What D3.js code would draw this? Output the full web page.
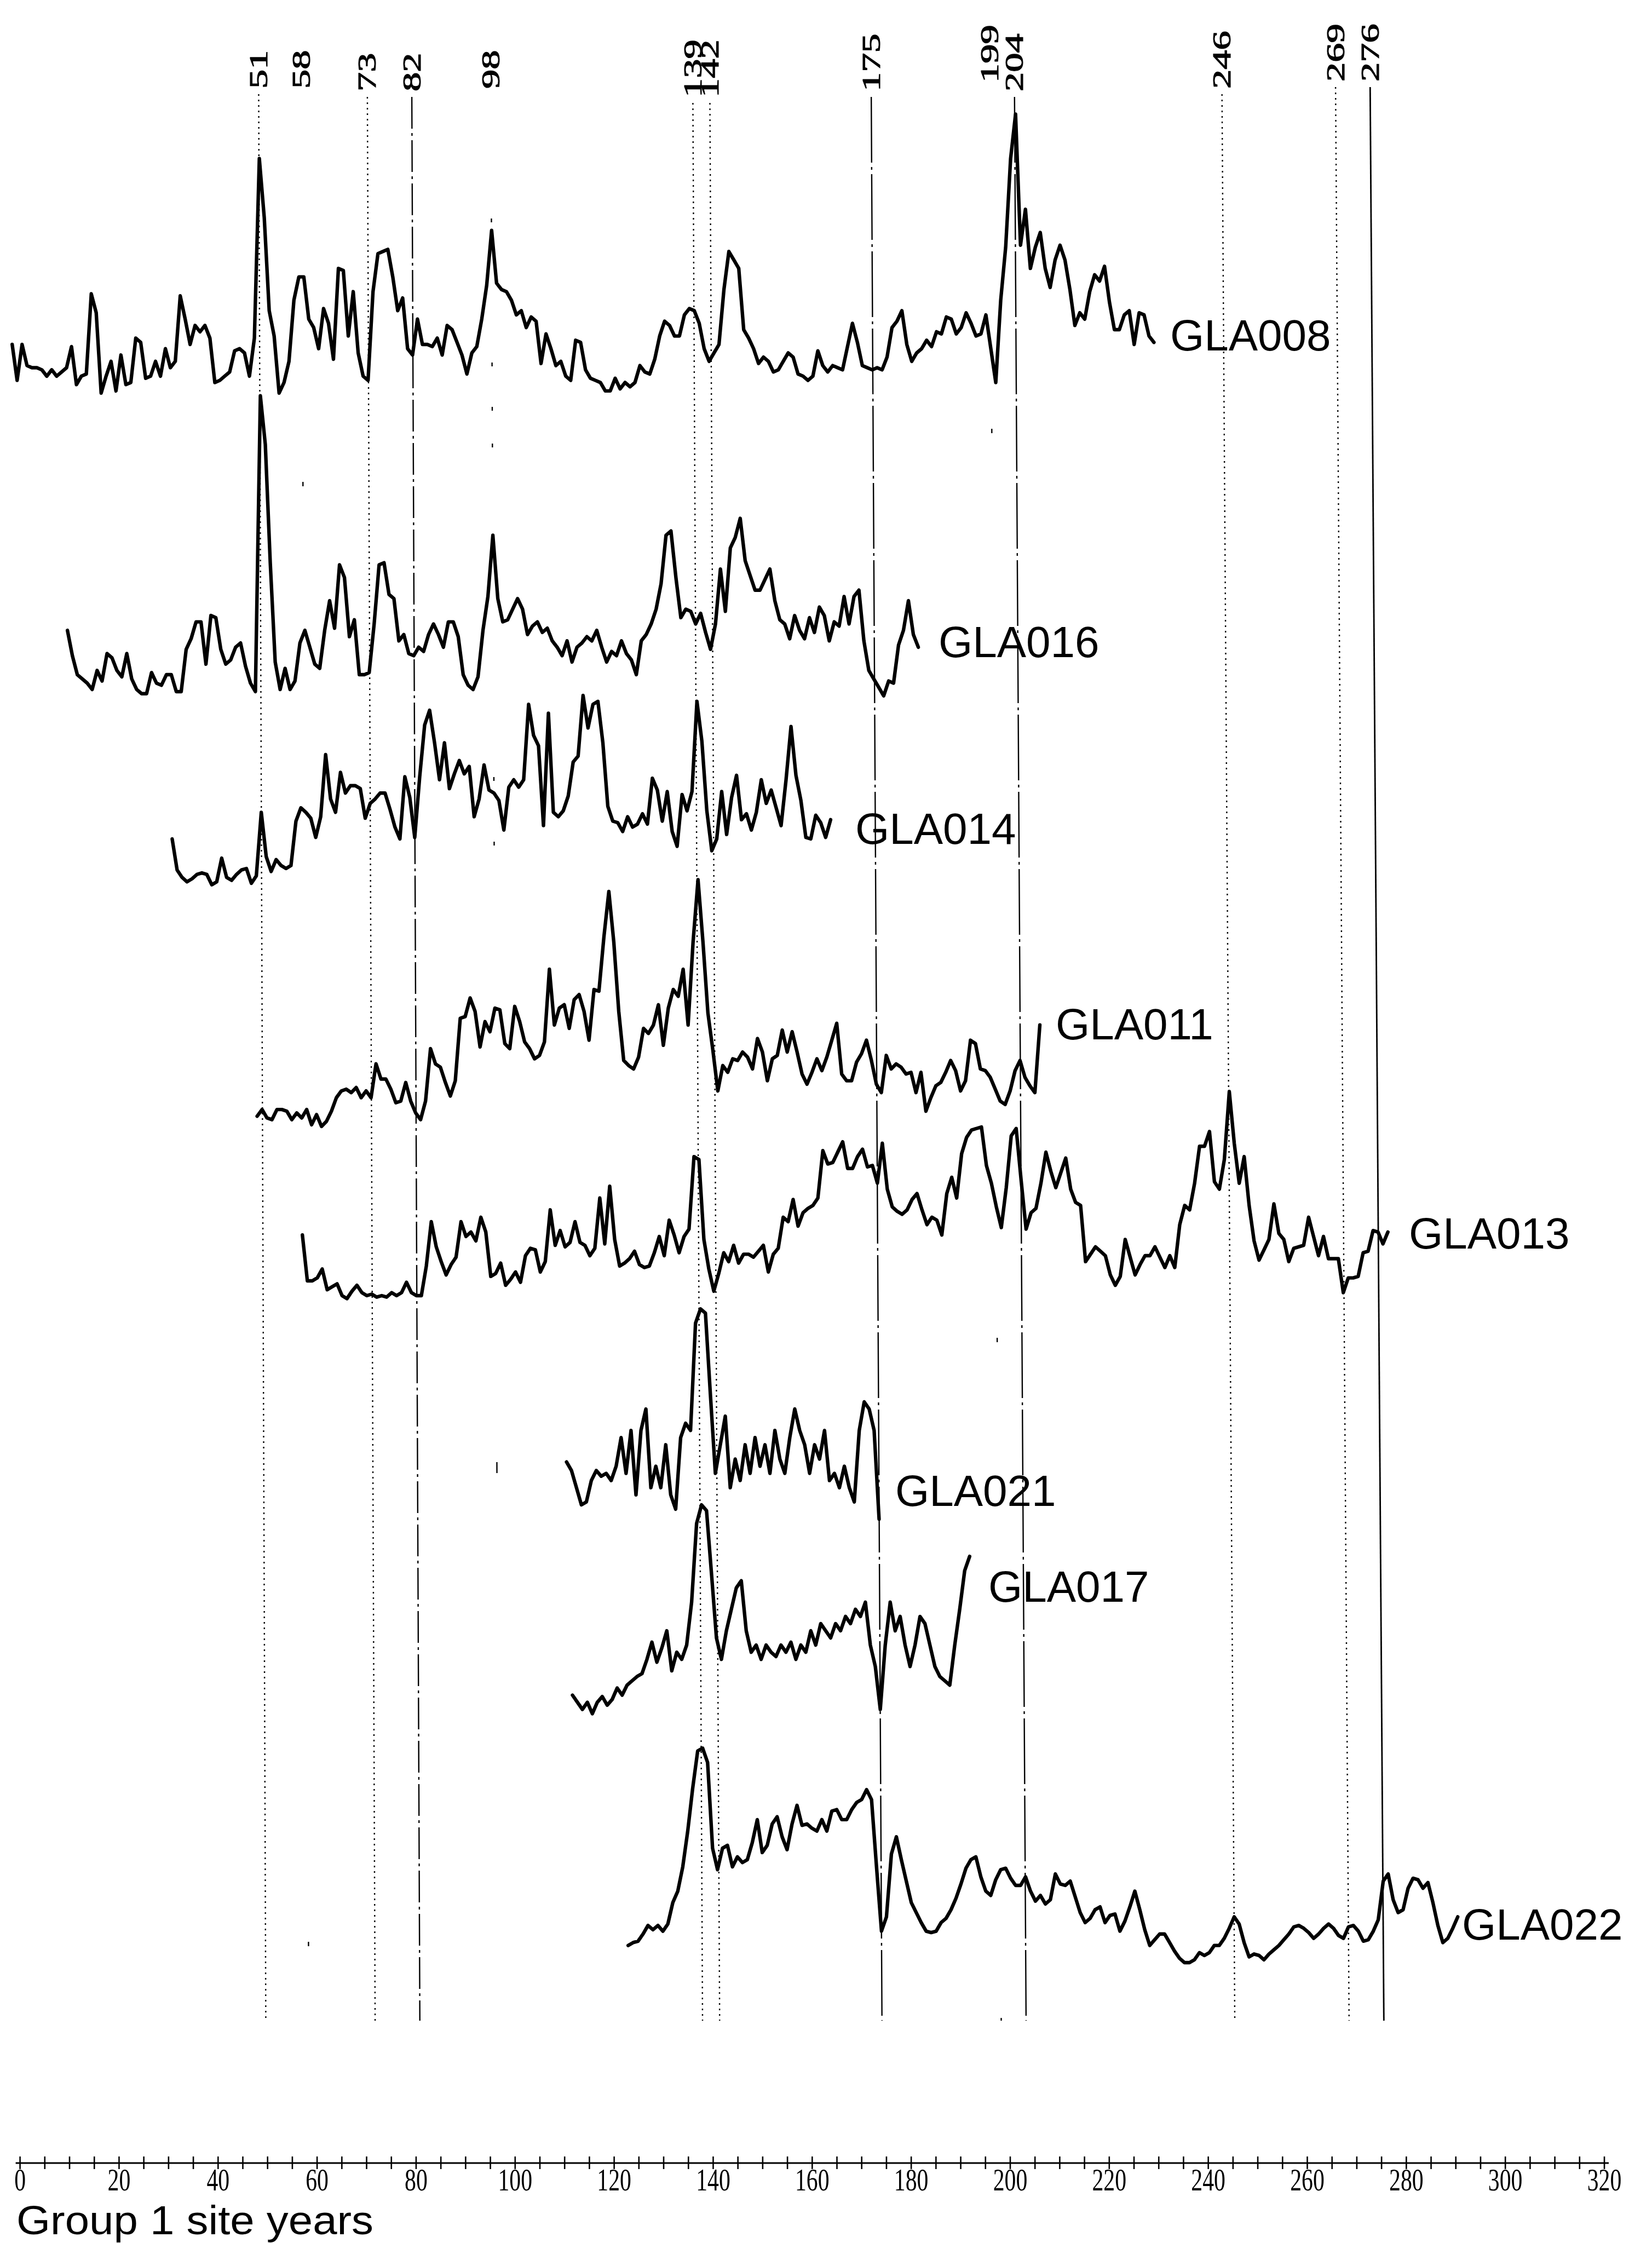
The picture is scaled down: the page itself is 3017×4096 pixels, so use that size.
<!DOCTYPE html>
<html>
<head>
<meta charset="utf-8">
<script src="https://cdn.jsdelivr.net/npm/d3@7/dist/d3.min.js"></script>
<style>
  html, body { margin: 0; padding: 0; background: #fff; }
  svg { display: block; }
</style>
</head>
<body>
<svg id="chart" width="3017" height="4096"></svg>
<script>
// ---------------- data ----------------
// Signature years marked across all sites
const markerYears  = [51, 58, 73, 82, 98, 139, 142, 175, 199, 204, 246, 269, 276];
const markerStyles = ["dot","faint58","dot","dashdot","faint98","dot","dot","dashdot2","faint199","dashdot2","dot","dot","solid"];

// Axis tick labels (group 1 site years)
const axisTicks  = d3.range(0, 321, 20);
const minorTicks = d3.range(0, 321, 5);

// Site chronologies: name, first year, yearly index values
const seriesNames = ["GLA008", "GLA016", "GLA014", "GLA011", "GLA013", "GLA021", "GLA017", "GLA022"];
const seriesStart = [1, 12, 33, 50, 59, 112, 113, 124];

const gla008 = [
  44,27,44,34,33,33,32,29,32,29, 31,33,43,25,29,30,68,59,21,29,
  36,22,39,25,26,47,45,28,29,36, 29,42,33,36,67,56,44,53,50,53,
  47,26,27,29,31,41,42,40,29,47, 132,104,60,48,21,26,36,65,76,76,
  56,52,42,61,54,37,80,79,48,69, 40,29,27,69,87,88,89,76,60,66,
  42,39,56,44,44,43,47,39,53,51, 45,39,30,40,43,56,72,98,73,70,
  69,65,58,60,52,57,55,35,49,42, 34,36,29,27,46,45,32,28,27,
  26,22,22,28,23,26,24,26,34,31,30,
  37,48,55,53,48,48,58,61,60,54, 42,36,40,44,70,88,84,80,51,47,
  42,35,38,36,31,32,36,40,38,30, 29,27,29,41,34,31,34,33,32,43,
  54,45,34,33,32,33,32,38,52,55, 60,44,36,40,42,46,43,50,49,57,
  56,49,52,59,54,48,49,58,42,26, 65,90,132,153,91,108,80,90,97,80,
  71,84,91,84,70,53,59,56,69,77, 74,81,64,51,51,58,60,44,59,58,48,45
];
const gla016 = [
  42,30,21,19,17,14,23,18,31,
  29,23,20,31,19,14,12,12,22,17, 16,21,21,13,13,33,38,46,46,26,
  49,48,33,26,28,34,36,25,17,13, 153,130,74,27,14,24,14,18,36,42,
  34,26,24,42,56,43,73,67,39,47, 21,21,22,45,73,74,59,57,37,40,
  31,30,34,32,40,45,40,34,46,46, 39,21,16,14,20,42,58,87,57,46,
  47,52,
  57,52,40,44,46,41,43,37,34,30, 37,27,34,36,39,37,42,34,27,32,
  30,37,31,28,21,37,40,45,52,64, 87,89,67,48,52,51,45,50,41,33,
  45,71,51,81,86,95,75,68,61,61, 66,71,56,47,45,38,49,42,38,48,
  41,53,49,37,46,44,58,45,58,61, 37,23,19,15,11,18,17,35,42,56,40,34
];
const gla014 = [
  52,31,26,23,25,28,29,28,21,23, 39,26,24,28,31,32,22,27,70,40,
  30,38,34,32,34,64,73,70,66,53, 67,109,79,70,97,83,88,88,86,66,
  76,79,83,83,72,60,52,94,80,53, 94,129,139,117,92,117,86,96,105,96,
  101,67,79,102,85,83,78,58,87,92, 87,92,143,122,115,61,137,70,67,71,
  81,104,108,149,127,143,145,117,74,64, 63,57,67,60,62,69,62,93,85,64,
  84,57,47,82,71,84,145,118,71,44, 52,84,55,80,95,65,69,58,70,92,
  76,85,73,61,92,128,95,78,53,52, 68,63,53,65
];
const gla011 = [
  19,23,18,17,23,23,22,17,21,18, 23,14,20,13,16,22,30,34,35,33,
  36,30,34,30,50,41,41,35,27,28, 39,28,21,17,28,59,50,48,39,31,
  40,77,78,89,81,60,75,69,83,82, 62,59,84,75,63,59,53,55,63,106,
  73,83,85,71,88,91,81,64,94,93, 125,152,122,81,52,49,47,54,71,68,
  73,85,61,83,94,90,106,73,122,159, 122,80,58,34,49,45,53,52,57,54,
  47,65,57,40,53,55,70,57,69,57, 44,38,45,53,46,54,64,74,44,40,
  40,51,56,64,52,38,33,55,47,50, 48,44,45,33,45,22,30,37,39,45,
  52,46,34,40,64,62,47,46,42,35, 28,26,34,46,52,42,37,33,73
];
const gla013 = [
  53,22,22,24,30,16,18,20,12,10, 15,19,14,12,13,11,12,11,14,12,
  14,21,14,12,12,32,62,45,35,26, 33,38,62,52,55,49,65,55,25,27,
  34,19,23,28,21,39,44,43,28,35, 70,46,56,45,48,62,48,46,39,44,
  78,47,86,50,32,34,37,42,33,31, 32,41,52,39,63,53,41,52,57,106,
  104,50,30,15,27,41,35,46,34,40, 40,38,42,46,28,40,44,65,62,77,
  59,68,71,73,78,110,101,102,109,116, 98,98,106,111,99,100,88,
  115,84,72,69,67,70,77,81,70,60, 65,63,53,81,92,78,108,119,124,125,
  126,100,88,72,58,85,120,125,90,57, 68,71,88,109,96,85,95,105,84,75,
  73,35,40,45,42,39,
  26,19,25,50,38,26,33,39,39,45, 38,31,39,31,60,73,70,88,113,113,
  123,89,84,104,150,115,88,106,73,49, 36,43,50,74,54,50,35,44,45,46,
  65,52,39,52,37,37,37,14,24,24, 25,41,42,56,55,47,55
];
const gla021 = [
  78,72,60,48,50,65,72,68,70,65, 75,95,70,100,55,100,115,60,75,60,
  90,55,45,95,105,100,175,185,182,125, 70,90,110,60,80,65,90,70,95,75,
  90,70,100,80,70,95,115,100,90,70, 90,80,100,65,70,60,75,60,50,100,
  120,115,100,38
];
const gla017 = [
  65,60,55,60,52,60,64,58,62,70, 65,72,75,78,80,90,102,88,98,110,
  82,95,90,100,130,185,198,194,150,105, 90,110,125,140,145,110,95,100,90,100,
  95,92,100,95,102,90,100,95,110,100, 115,110,105,115,110,120,115,125,120,130,
  100,85,55,100,130,110,120,100,85,100, 120,115,100,85,78,75,72,100,125,152,162
];
const gla022 = [
  40,42,43,48,54,51,54,50,55,70, 78,95,120,150,176,178,168,108,93,108,
  110,95,102,98,100,112,128,105,110,125, 130,116,107,125,138,124,125,122,120,128,
  120,134,135,128,128,135,140,142,149,142, 95,50,60,104,116,100,85,70,63,56,
  50,49,50,56,59,65,73,83,94,100, 102,88,78,75,86,93,94,87,82,82,
  88,78,71,75,69,72,90,83,82,85, 74,63,56,59,65,67,56,61,62,50,
  57,67,78,65,51,40,44,48,48,42, 36,31,28,28,30,35,33,35,40,40,
  45,52,60,55,42,32,34,33,30,34, 37,40,44,48,53,54,52,49,45,48,
  52,55,52,47,45,53,54,50,43,44, 50,58,85,90,72,63,65,80,87,86,
  80,84,70,54,42,45,52,60
];
const seriesValues = [gla008, gla016, gla014, gla011, gla013, gla021, gla017, gla022];

// ---------------- layout ----------------
const W = 3017, H = 4096;
const svg = d3.select("#chart");
svg.append("rect").attr("width", W).attr("height", H).attr("fill", "#fff");

// The plotted year grid drifts a little from top to bottom of the figure,
// so x is interpolated between a top and a bottom scale.
const LINE_TOP = 172, LINE_BOTTOM = 3690;
const xTop    = d3.scaleLinear().domain([0, 320]).range([12.3, 2899.3]);
const xBottom = d3.scaleLinear().domain([0, 320]).range([22.6, 2926.6]);
const xAt = (yr, y) => {
  const t = (y - LINE_TOP) / (LINE_BOTTOM - LINE_TOP);
  return xTop(yr) + t * (xBottom(yr) - xTop(yr));
};

// vertical bands of each trace: [y at value 0, y at top of domain], domain max
const bandY0   = [798.8, 1313.1, 1672.4, 2097.1, 2398.4, 2873.4, 3265.3, 3657.1];
const bandY1   = [181.5, 695.75, 1240.25, 1603.25, 1966.25, 2612.2, 3004.1, 3396.0];
const bandMax  = [160, 160, 160, 160, 160, 100, 100, 100];
const labelPos = [[2137, 640], [1714, 1200], [1562, 1541], [1928, 1898],
                  [2573, 2280], [1635, 2750], [1805, 2925], [2670, 3542]];

// baseline (lower end) of each rotated year label, and small sideways nudges
const markerLabelBottom = [162, 162, 167, 167, 162, 178, 178, 167, 151, 167, 162, 149, 149];
const markerNudge       = [0, 15, 0, 0, 0, -1, 3, 0, 0, 0, 0, 0, 0];

// ---------------- marker lines ----------------
const dashFor = {
  dot: "3,7",
  dashdot: "58,8,5,8",
  dashdot2: "120,8,5,8",
  faint58: "0,708,8,2658,8,3000",
  faint98: "0,227,7,256,7,74,7,60,7,602,7,111,7,1126,20,3000",
  faint199: "0,622,8,1652,8,1234,8,3000",
  solid: null
};
const markers = svg.append("g").attr("class", "markers");
markerYears.forEach((yr, i) => {
  const top = markerLabelBottom[i] + 10;
  const nx = markerNudge[i];
  markers.append("line")
    .attr("x1", xAt(yr, top) + nx).attr("y1", top)
    .attr("x2", xAt(yr, LINE_BOTTOM) + nx).attr("y2", LINE_BOTTOM)
    .attr("stroke", "#000")
    .attr("stroke-width", markerStyles[i] === "solid" ? 2.8 : 2.4)
    .attr("stroke-dasharray", dashFor[markerStyles[i]]);
  markers.append("text")
    .attr("transform", `translate(${xAt(yr, top) + nx},${markerLabelBottom[i]}) rotate(-90) scale(1.5,1)`)
    .attr("dy", "0.33em")
    .attr("text-anchor", "start")
    .attr("font-family", "'Liberation Serif', 'DejaVu Serif', serif")
    .attr("font-size", 47)
    .attr("fill", "#000")
    .attr("stroke", "#000")
    .attr("stroke-width", 1.1)
    .text(yr);
});

// ---------------- traces ----------------
const traces = svg.append("g").attr("class", "traces");
seriesNames.forEach((name, s) => {
  const y = d3.scaleLinear().domain([0, bandMax[s]]).range([bandY0[s], bandY1[s]]);
  const yMid = (bandY0[s] + bandY1[s]) / 2;
  const start = seriesStart[s];
  const line = d3.line()
    .x((v, i) => xAt(start + i, yMid))
    .y(v => y(v));
  traces.append("path")
    .datum(seriesValues[s])
    .attr("d", line)
    .attr("fill", "none")
    .attr("stroke", "#000")
    .attr("stroke-width", 6.4)
    .attr("stroke-linejoin", "round")
    .attr("stroke-linecap", "round");
  traces.append("text")
    .attr("x", labelPos[s][0]).attr("y", labelPos[s][1])
    .attr("font-family", "'Liberation Sans', Arial, sans-serif")
    .attr("font-size", 80)
    .attr("fill", "#000")
    .text(name);
});

// ---------------- axis ----------------
const AXIS_Y = 3950;
const xAxis = d3.scaleLinear().domain([0, 320]).range([36.6, 2930]);
const axisG = svg.append("g").attr("class", "axis");
axisG.append("line")
  .attr("x1", xAxis(0) - 8).attr("x2", xAxis(320) + 8)
  .attr("y1", AXIS_Y).attr("y2", AXIS_Y)
  .attr("stroke", "#000").attr("stroke-width", 3);
axisG.selectAll("line.tick").data(minorTicks).join("line")
  .attr("class", "tick")
  .attr("x1", d => xAxis(d)).attr("x2", d => xAxis(d))
  .attr("y1", AXIS_Y - 12).attr("y2", AXIS_Y + 11)
  .attr("stroke", "#000").attr("stroke-width", 2.6);
axisG.selectAll("text.tl").data(axisTicks).join("text")
  .attr("class", "tl")
  .attr("transform", d => `translate(${xAxis(d)},4000) scale(0.72,1)`)
  .attr("text-anchor", "middle")
  .attr("font-family", "'Liberation Serif', 'DejaVu Serif', serif")
  .attr("font-size", 58)
  .attr("fill", "#000")
  .text(d => d);
svg.append("text")
  .attr("x", 30).attr("y", 4080)
  .attr("font-family", "'Liberation Sans', Arial, sans-serif")
  .attr("font-size", 74)
  .attr("textLength", 652)
  .attr("lengthAdjust", "spacingAndGlyphs")
  .attr("fill", "#000")
  .text("Group 1 site years");
</script>
</body>
</html>
